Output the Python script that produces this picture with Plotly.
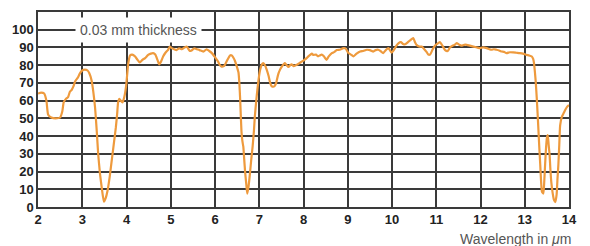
import plotly.graph_objects as go

wavelength = [
    2.00, 2.07, 2.14, 2.19, 2.23, 2.30, 2.40, 2.50, 2.55, 2.58, 2.63, 2.68, 2.72, 2.76, 2.80, 2.84, 2.90, 2.95,
    3.00, 3.06, 3.12, 3.16, 3.21, 3.25, 3.29, 3.33, 3.36, 3.40, 3.44, 3.49, 3.53, 3.57, 3.62, 3.67, 3.72, 3.76,
    3.79, 3.81, 3.84, 3.87, 3.91, 3.95, 3.99, 4.02, 4.04, 4.08, 4.13, 4.19, 4.25, 4.30, 4.36, 4.42, 4.49, 4.55,
    4.60, 4.65, 4.70, 4.74, 4.78, 4.83, 4.88, 4.94, 4.98, 5.02, 5.08, 5.13, 5.19, 5.25, 5.30, 5.36, 5.43, 5.47,
    5.53, 5.59, 5.65, 5.70, 5.74, 5.81, 5.87, 5.93, 6.00, 6.07, 6.11, 6.15, 6.20, 6.23, 6.28, 6.34, 6.38, 6.41,
    6.45, 6.49, 6.53, 6.55, 6.57, 6.60, 6.62, 6.64, 6.66, 6.68, 6.71, 6.73, 6.76, 6.79, 6.82, 6.85, 6.88, 6.90,
    6.94, 6.98, 7.02, 7.06, 7.09, 7.13, 7.17, 7.21, 7.24, 7.27, 7.30, 7.34, 7.38, 7.43, 7.47, 7.51, 7.55, 7.58,
    7.62, 7.66, 7.70, 7.73, 7.78, 7.85, 7.90, 7.96, 8.02, 8.07, 8.11, 8.15, 8.19, 8.22, 8.28, 8.33, 8.37, 8.41,
    8.46, 8.52, 8.57, 8.64, 8.70, 8.75, 8.82, 8.90, 8.95, 9.01, 9.07, 9.13, 9.20, 9.28, 9.35, 9.43, 9.50, 9.58,
    9.63, 9.69, 9.74, 9.80, 9.86, 9.92, 9.99, 10.04, 10.10, 10.15, 10.20, 10.25, 10.30, 10.36, 10.41, 10.48,
    10.52, 10.56, 10.62, 10.67, 10.71, 10.78, 10.82, 10.86, 10.92, 10.97, 11.02, 11.08, 11.14, 11.20, 11.26,
    11.31, 11.37, 11.42, 11.46, 11.52, 11.57, 11.63, 11.69, 11.76, 11.84, 11.92, 11.99, 12.06, 12.14, 12.20,
    12.25, 12.30, 12.36, 12.42, 12.48, 12.53, 12.59, 12.66, 12.74, 12.81, 12.89, 12.96, 13.04, 13.10, 13.16,
    13.19, 13.21, 13.23, 13.25, 13.27, 13.29, 13.31, 13.33, 13.35, 13.37, 13.39, 13.42, 13.44, 13.46, 13.48,
    13.50, 13.52, 13.54, 13.56, 13.58, 13.60, 13.63, 13.66, 13.69, 13.72, 13.74, 13.76, 13.78, 13.80, 13.84,
    13.88, 13.92, 13.96, 14.00,
]

transmission = [
    64, 64.5, 64, 60, 52, 50.5, 50, 50.5, 54, 59, 61, 62, 65, 66, 68, 71, 73, 75.5,
    77, 77.5, 77, 75.5, 71.5, 65, 56, 42, 30, 19, 11, 3, 5, 9, 17, 27, 37, 45,
    53, 59, 61, 60, 59, 62, 68, 76, 81, 85.5, 86, 85, 83, 81.5, 83, 84, 85.8, 86.5,
    86.8, 86, 83, 80.5, 82, 85, 87, 88.7, 90.5, 89.6, 89, 88.5, 89.5, 89, 89.8, 90.5, 88, 88.3,
    89.5, 89, 88.5, 88, 87.7, 89, 88, 86.8, 84.5, 82, 80, 79.2, 79.5, 80.5, 83, 85.5, 85.5, 84.5,
    82.5, 79.5, 76, 70, 60, 42, 37, 34, 27, 20, 12, 7.6, 12, 19, 27, 34, 43, 51,
    62, 71, 77.4, 80.5, 81.2, 80, 77.4, 74, 70.7, 68.5, 67.9, 68, 69.8, 75, 77.5, 79.2, 80.5, 81.2,
    80, 79, 80, 80.5, 79.5, 80.2, 81, 82, 83, 84, 85, 85.8, 86.5, 85.8, 86, 85, 85.5, 86,
    85, 83, 85, 86.8, 87.5, 88.5, 88.7, 89.6, 89.5, 87, 86, 85, 86.5, 87.7, 88, 88.7, 88.5, 87.7,
    88.5, 88.7, 88, 86.8, 88.5, 89.6, 87, 88.5, 91, 92.5, 93, 92, 91.8, 93, 94, 95.3,
    93, 91.3, 90.5, 90.5, 89.6, 87.5, 86, 86, 89, 91, 92, 93, 91, 88.5, 88,
    90, 91, 91.5, 92.5, 91.5, 91, 91.5, 91.5, 91, 90.5, 90, 89.6, 90, 89.6, 89,
    88.7, 89, 88.7, 88.3, 87.7, 87.5, 86.8, 87.3, 87.2, 87, 86.8, 86.5, 85.8, 85.5, 84.9,
    83.5, 81, 76, 70, 62, 53, 43, 33, 24, 14, 8.5, 7.6, 14, 24, 33,
    39, 40.6, 35, 30, 21, 14, 8, 4, 2.8, 7, 16, 24, 35, 46, 51,
    53, 55, 56.6, 57.5,
]

x_ticks = list(range(2, 15))
y_ticks = list(range(0, 101, 10))
legend_label = "0.03 mm thickness"
x_title = "Wavelength in <i>\u03bc</i>m"

fig = go.Figure()
fig.add_trace(go.Scatter(
    x=wavelength, y=transmission, mode="lines",
    line=dict(color="#EE9A3D", width=2.2, shape="spline", smoothing=0.5),
    showlegend=False, hoverinfo="skip",
))

grid_color = "#3a3a3a"
tick_font = dict(family="Liberation Sans, Arial, sans-serif", size=13, color="#222222", weight="bold")

fig.update_xaxes(
    range=[2, 14], tickvals=x_ticks, ticktext=[str(v) for v in x_ticks],
    showgrid=True, gridcolor=grid_color, gridwidth=1.5,
    showline=True, linecolor=grid_color, linewidth=1.5, mirror=True,
    zeroline=False, ticks="", tickfont=tick_font, automargin=False,
)
fig.update_yaxes(
    range=[0, 110], tickvals=y_ticks, ticktext=[str(v) for v in y_ticks],
    showgrid=True, gridcolor=grid_color, gridwidth=1.5,
    showline=True, linecolor=grid_color, linewidth=1.5, mirror=True,
    zeroline=False, ticks="", tickfont=tick_font, automargin=False,
)

fig.add_annotation(
    x=3.0, y=100, xref="x", yref="y", xanchor="left", yanchor="middle",
    text=legend_label, showarrow=False,
    font=dict(family="Liberation Sans, Arial, sans-serif", size=14, color="#555555"),
    bgcolor="white", borderpad=4, xshift=-7,
)
fig.add_annotation(
    x=1, y=0, xref="paper", yref="paper", xanchor="right", yanchor="middle",
    text=x_title, showarrow=False, xshift=4, yshift=-32,
    font=dict(family="Liberation Sans, Arial, sans-serif", size=14, color="#555555"),
)

fig.update_layout(
    width=590, height=246,
    margin=dict(l=38, r=21, t=12, b=39),
    paper_bgcolor="white", plot_bgcolor="white",
)

fig.write_html("out.html", config={"displayModeBar": False},
               post_script="document.body.style.margin='0';")
